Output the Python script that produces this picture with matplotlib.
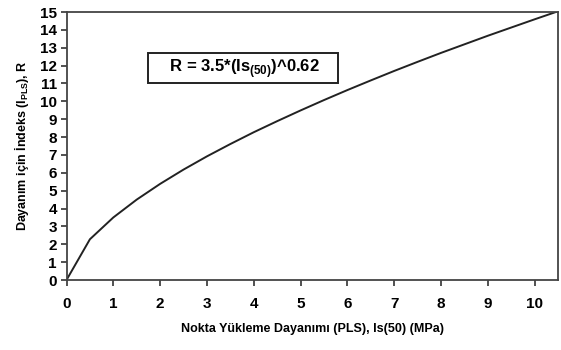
import matplotlib
matplotlib.use("Agg")
import matplotlib.pyplot as plt

# Point load strength Is(50) (MPa) and strength index R
is50 = [0, 0.5, 1, 1.5, 2, 2.5, 3, 3.5, 4, 4.5, 5, 5.5,
        6, 6.5, 7, 7.5, 8, 8.5, 9, 9.5, 10, 10.5]
r_index = [0, 2.28, 3.50, 4.50, 5.38, 6.18, 6.92, 7.61, 8.27, 8.89, 9.49, 10.07,
           10.63, 11.17, 11.70, 12.21, 12.71, 13.19, 13.67, 14.13, 14.59, 15.04]

x_ticks = list(range(0, 11))
y_ticks = list(range(0, 16))

plt.rcParams['font.family'] = ['Liberation Sans', 'DejaVu Sans']
plt.rcParams['mathtext.fontset'] = 'custom'
plt.rcParams['mathtext.rm'] = 'Liberation Sans:bold'
plt.rcParams['mathtext.bf'] = 'Liberation Sans:bold'

fig = plt.figure(figsize=(5.61, 3.5), dpi=100)
ax = fig.add_axes([66.5 / 561, 1 - 280 / 350, (558 - 66.5) / 561, (280 - 12) / 350])

ax.plot(is50, r_index, color='#222222', linewidth=1.4)

ax.set_xlim(0, 10.5)
ax.set_ylim(0, 15)
ax.set_xticks(x_ticks)
ax.set_yticks(y_ticks)
ax.tick_params(direction='out', length=4, width=1.2, color='#333333',
               labelsize=11, pad=3)
for lab in ax.get_xticklabels() + ax.get_yticklabels():
    lab.set_fontweight('bold')
ax.tick_params(axis='x', pad=8)
for sp in ax.spines.values():
    sp.set_color('#444444')
    sp.set_linewidth(1.3)

ax.set_xlabel('Nokta Yükleme Dayanımı (PLS), Is(50) (MPa)',
              fontsize=9, fontweight='bold', labelpad=9)
ax.set_ylabel(r'Dayanım için İndeks (I$_{\mathrm{PLS}}$), R',
              fontsize=9, fontweight='bold', labelpad=6)

# equation box
ax.text(3.77, 11.86, r'    R = 3.5*(Is$_{\mathrm{(50)}}$)^0.62    ', fontsize=12,
        fontweight='bold', ha='center', va='center',
        bbox=dict(boxstyle='square,pad=0.2', facecolor='white',
                  edgecolor='#222222', linewidth=1.4))

fig.savefig('out.png', dpi=100)
